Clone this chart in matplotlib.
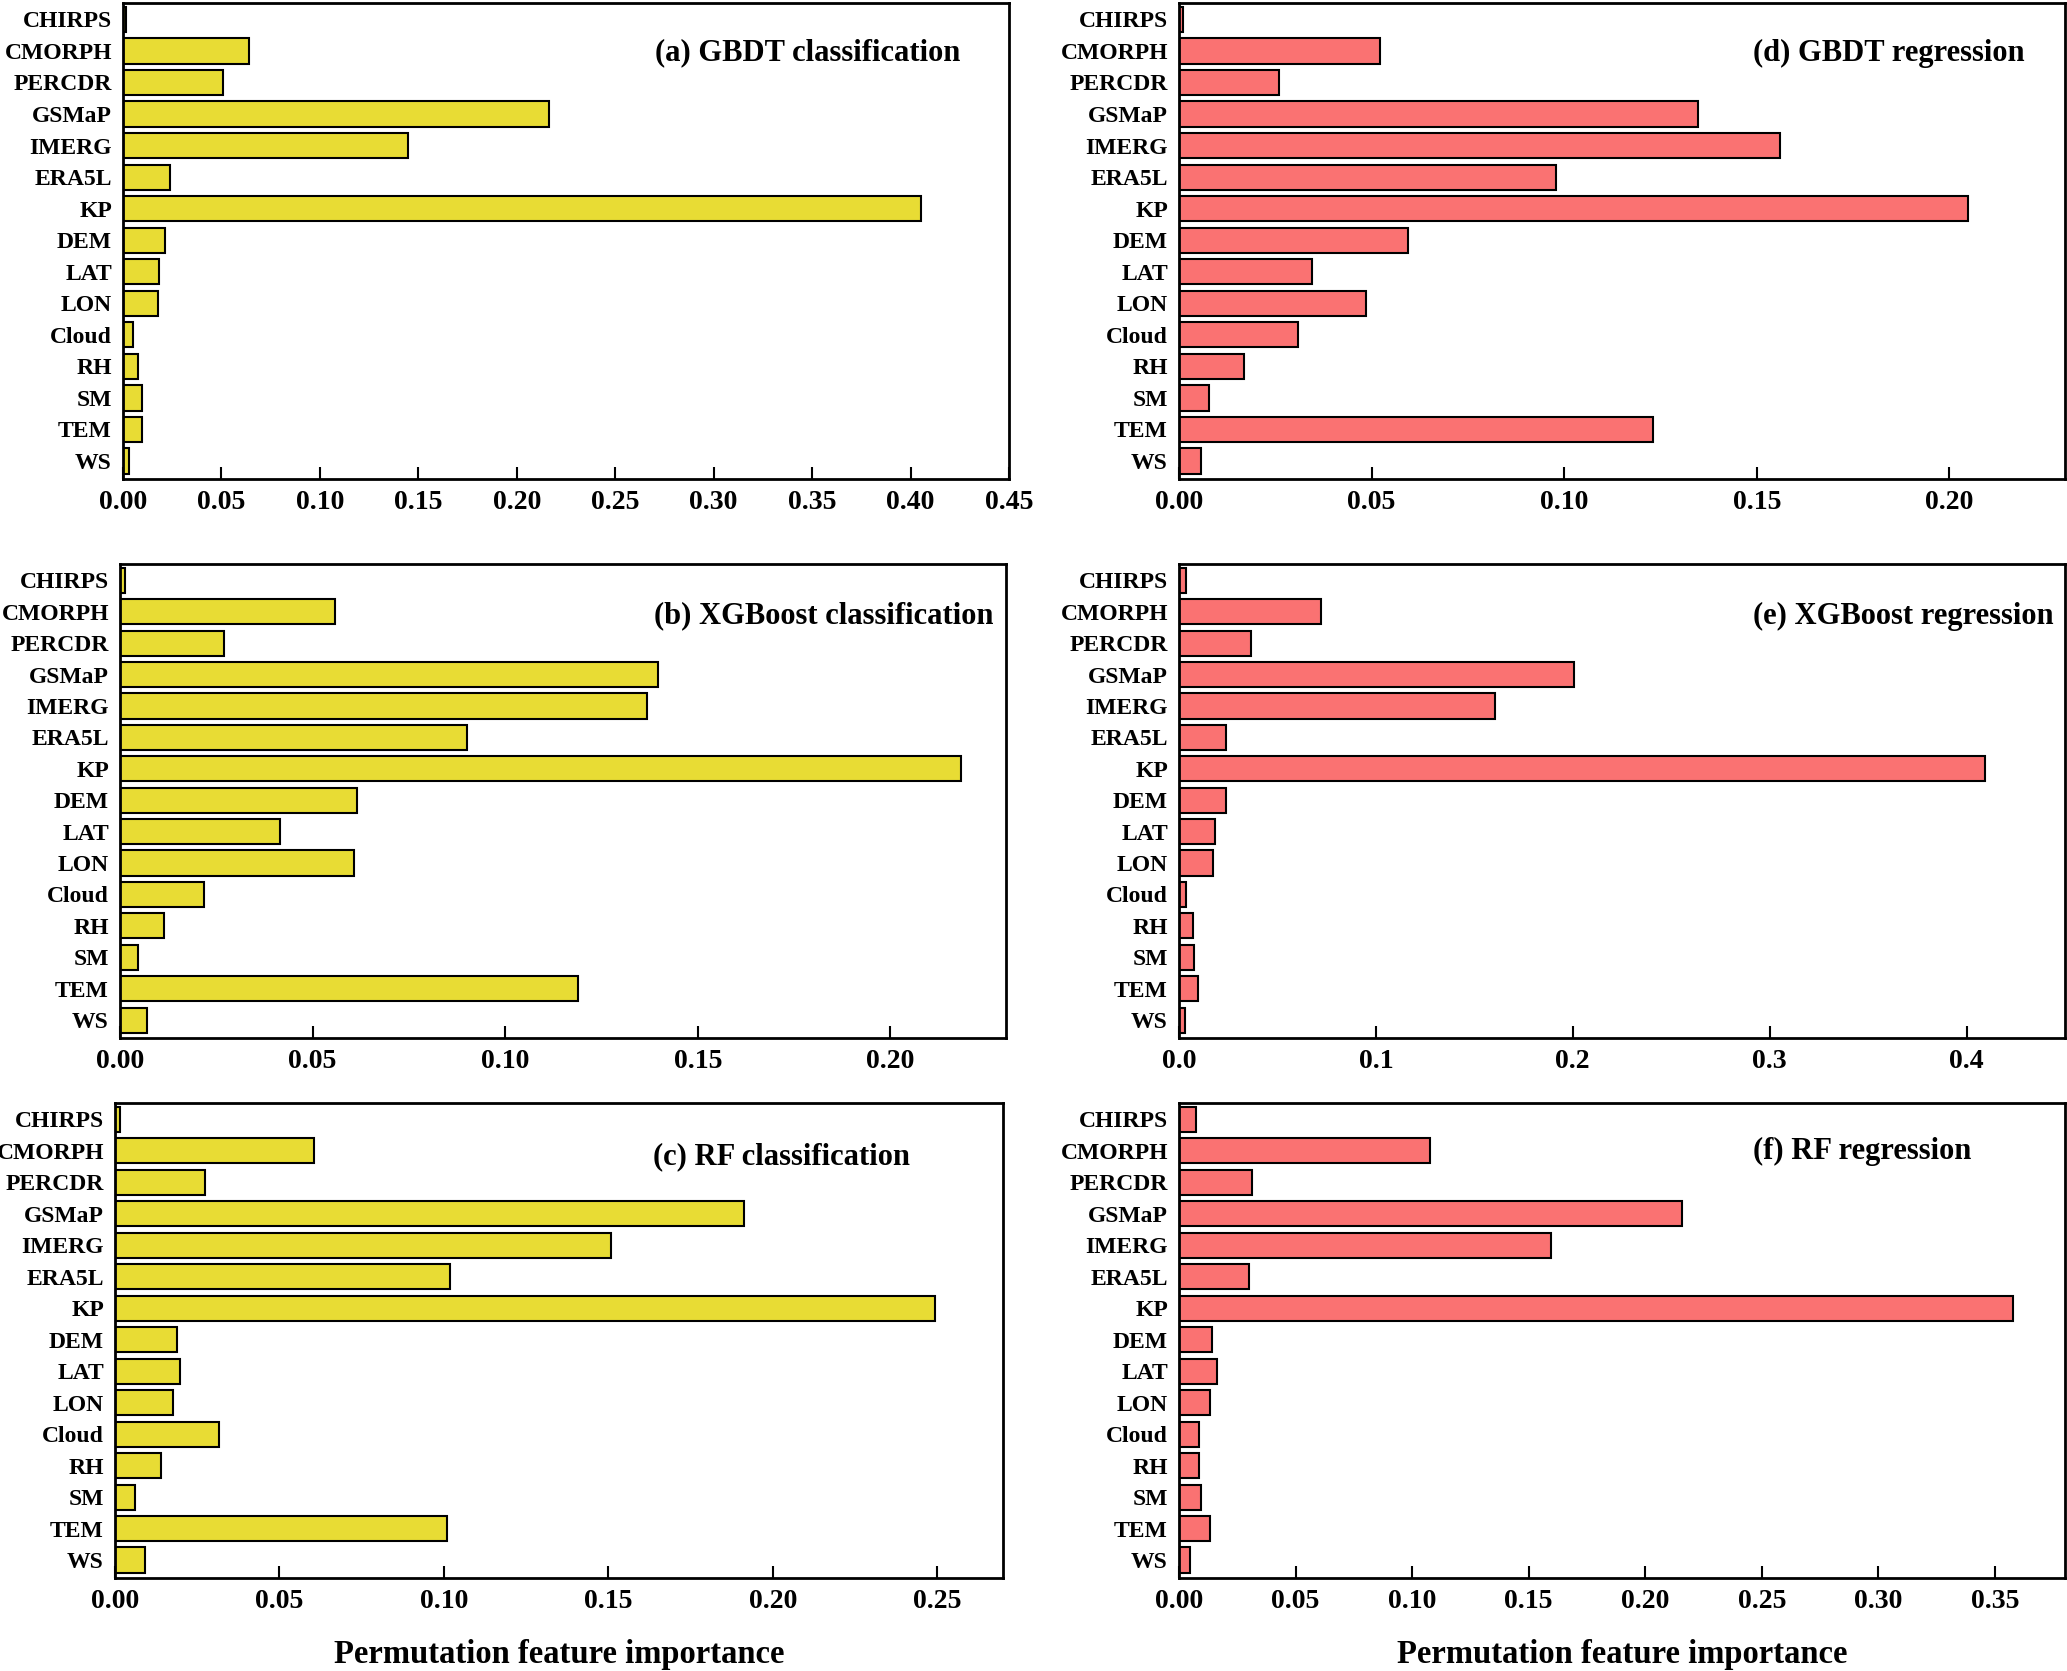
import matplotlib
matplotlib.use("Agg")
import matplotlib.pyplot as plt
import numpy as np

features = ["CHIRPS", "CMORPH", "PERCDR", "GSMaP", "IMERG", "ERA5L", "KP",
            "DEM", "LAT", "LON", "Cloud", "RH", "SM", "TEM", "WS"]

gbdt_cls = [0.0013, 0.0640, 0.0510, 0.2164, 0.1447, 0.0238, 0.4054,
            0.0214, 0.0184, 0.0178, 0.0050, 0.0077, 0.0097, 0.0094, 0.0030]
xgb_cls = [0.0012, 0.0557, 0.0271, 0.1397, 0.1369, 0.0901, 0.2183,
           0.0615, 0.0415, 0.0608, 0.0218, 0.0115, 0.0048, 0.1189, 0.0069]
rf_cls = [0.0016, 0.0605, 0.0274, 0.1913, 0.1508, 0.1020, 0.2492,
          0.0189, 0.0197, 0.0175, 0.0316, 0.0141, 0.0060, 0.1010, 0.0090]
gbdt_reg = [0.0010, 0.0522, 0.0259, 0.1348, 0.1560, 0.0978, 0.2048,
            0.0594, 0.0344, 0.0485, 0.0310, 0.0170, 0.0077, 0.1231, 0.0058]
xgb_reg = [0.0037, 0.0721, 0.0365, 0.2005, 0.1606, 0.0241, 0.4094,
           0.0241, 0.0181, 0.0174, 0.0037, 0.0070, 0.0077, 0.0094, 0.0030]
rf_reg = [0.0073, 0.1077, 0.0311, 0.2159, 0.1597, 0.0300, 0.3575,
          0.0141, 0.0161, 0.0133, 0.0085, 0.0085, 0.0093, 0.0133, 0.0048]

titles = ["(a) GBDT classification", "(b) XGBoost classification", "(c) RF classification",
          "(d) GBDT regression", "(e) XGBoost regression", "(f) RF regression"]

W, H = 2067, 1671
fig = plt.figure(figsize=(W / 100, H / 100), dpi=100)
plt.rcParams['font.family'] = ['Liberation Serif', 'DejaVu Serif']
plt.rcParams['font.weight'] = 'bold'

YELLOW = '#E8DC34'
RED = '#FA7272'

panels = [
    (gbdt_cls, titles[0], YELLOW, (123, 3, 1009, 479), 0.45, np.arange(0, 0.451, 0.05), '%.2f', (0.60, 0.895), False),
    (xgb_cls, titles[1], YELLOW, (120, 564, 1006, 1038), 0.23, np.arange(0, 0.201, 0.05), '%.2f', (0.603, 0.89), False),
    (rf_cls, titles[2], YELLOW, (115, 1103, 1003, 1578), 0.27, np.arange(0, 0.251, 0.05), '%.2f', (0.606, 0.886), True),
    (gbdt_reg, titles[3], RED, (1179, 3, 2065, 479), 0.23, np.arange(0, 0.201, 0.05), '%.2f', (0.648, 0.895), False),
    (xgb_reg, titles[4], RED, (1179, 564, 2065, 1038), 0.45, np.arange(0, 0.401, 0.1), '%.1f', (0.648, 0.89), False),
    (rf_reg, titles[5], RED, (1179, 1103, 2065, 1578), 0.38, np.arange(0, 0.351, 0.05), '%.2f', (0.648, 0.897), True),
]

y = np.arange(len(features))
for data, title, color, (l, t, r, b), xmax, ticks, fmt, (tx, ty), xlab in panels:
    ax = fig.add_axes([l / W, 1 - b / H, (r - l) / W, (b - t) / H])
    ax.barh(y, data, height=0.8, color=color, edgecolor='black', linewidth=1.5)
    ax.set_ylim(14.57, -0.52)
    ax.set_xlim(0, xmax)
    ax.set_yticks(y)
    ax.set_yticklabels(features, fontsize=17, fontweight='bold')
    ax.set_xticks(ticks)
    ax.set_xticklabels([fmt % v for v in ticks], fontsize=20, fontweight='bold')
    ax.tick_params(axis='y', length=0, pad=8)
    ax.tick_params(axis='x', direction='in', length=9, width=1.5, pad=8, top=False)
    for sp in ax.spines.values():
        sp.set_linewidth(2)
    ax.text(tx, ty, title, transform=ax.transAxes, ha='left', va='center',
            fontsize=22, fontweight='bold')
    if xlab:
        ax.set_xlabel('Permutation feature importance', fontsize=23.5, fontweight='bold', labelpad=18)

fig.savefig('out.png', dpi=100)
